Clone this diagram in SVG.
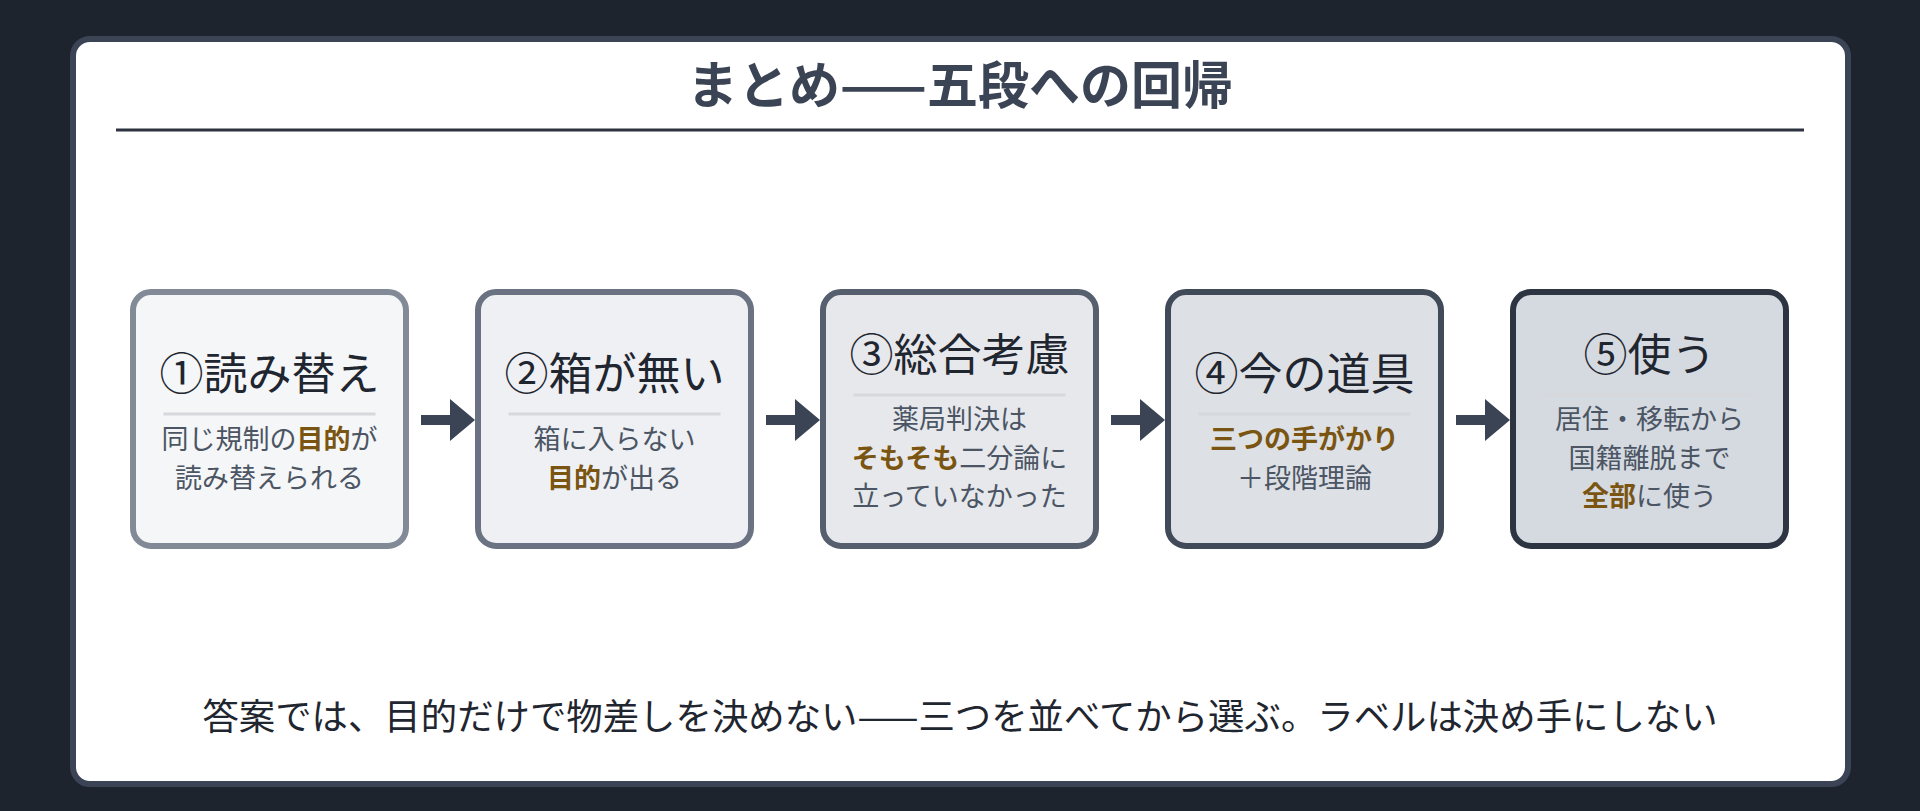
<svg xmlns="http://www.w3.org/2000/svg" width="1920" height="811" viewBox="0 0 1920 811">
<style>
  text { font-family: "Noto Sans CJK JP", "Noto Sans", sans-serif; }
  .node rect { stroke-width: 6; }
  .ttl { font-size: 44px; fill: #1f2630; text-anchor: middle; }
  .body { font-size: 27px; fill: #4b5563; text-anchor: middle; }
  .hl { font-weight: 700; fill: #7a5511; }
  .sep { stroke: #d6d8dc; stroke-width: 3; }
  .arrow { fill: #3b4454; }
</style>
<rect x="0" y="0" width="1920" height="811" fill="#1e242e"/>
<rect x="73" y="39" width="1775" height="745" rx="17" fill="#ffffff" stroke="#3b4454" stroke-width="6"/>
<text x="960" y="104" font-size="51" font-weight="700" fill="#3b4454" text-anchor="middle">まとめ——五段への回帰</text>
<line x1="116" y1="130" x2="1804" y2="130" stroke="#2d3440" stroke-width="3"/>

<g id="connectors">
  <rect class="arrow" x="421" y="415" width="31" height="10"/>
  <polygon class="arrow" points="450,399 475,420 450,441"/>
  <rect class="arrow" x="766" y="415" width="31" height="10"/>
  <polygon class="arrow" points="795,399 820,420 795,441"/>
  <rect class="arrow" x="1111" y="415" width="31" height="10"/>
  <polygon class="arrow" points="1140,399 1165,420 1140,441"/>
  <rect class="arrow" x="1456" y="415" width="31" height="10"/>
  <polygon class="arrow" points="1485,399 1510,420 1485,441"/>
</g>

<g id="node1" class="node">
  <rect x="133" y="292" width="273" height="254" rx="18" fill="#f5f6f8" stroke="#828a97"/>
  <text class="ttl" x="269.5" y="390">①読み替え</text>
  <line class="sep" x1="163.5" y1="414" x2="375.5" y2="414"/>
  <text class="body" x="269.5" y="449">同じ規制の<tspan class="hl">目的</tspan>が</text>
  <text class="body" x="269.5" y="488">読み替えられる</text>
</g>

<g id="node2" class="node">
  <rect x="478" y="292" width="273" height="254" rx="18" fill="#eef0f3" stroke="#6b7383"/>
  <text class="ttl" x="614.5" y="390">②箱が無い</text>
  <line class="sep" x1="508.5" y1="414" x2="720.5" y2="414"/>
  <text class="body" x="614.5" y="449">箱に入らない</text>
  <text class="body" x="614.5" y="488"><tspan class="hl">目的</tspan>が出る</text>
</g>

<g id="node3" class="node">
  <rect x="823" y="292" width="273" height="254" rx="18" fill="#e6e8ec" stroke="#565f6e"/>
  <text class="ttl" x="959.5" y="371">③総合考慮</text>
  <line class="sep" x1="853.5" y1="395" x2="1065.5" y2="395"/>
  <text class="body" x="959.5" y="429">薬局判決は</text>
  <text class="body" x="959.5" y="467.5"><tspan class="hl">そもそも</tspan>二分論に</text>
  <text class="body" x="959.5" y="506">立っていなかった</text>
</g>

<g id="node4" class="node">
  <rect x="1168" y="292" width="273" height="254" rx="18" fill="#dde0e5" stroke="#414a59"/>
  <text class="ttl" x="1304.5" y="390">④今の道具</text>
  <line class="sep" x1="1198.5" y1="414" x2="1410.5" y2="414"/>
  <text class="body" x="1304.5" y="449"><tspan class="hl">三つの手がかり</tspan></text>
  <text class="body" x="1304.5" y="488">＋段階理論</text>
</g>

<g id="node5" class="node">
  <rect x="1513" y="292" width="273" height="254" rx="18" fill="#d5dae1" stroke="#2d3542"/>
  <text class="ttl" x="1649.5" y="371">⑤使う</text>
  <line class="sep" x1="1543.5" y1="395" x2="1755.5" y2="395"/>
  <text class="body" x="1649.5" y="429">居住・移転から</text>
  <text class="body" x="1649.5" y="467.5">国籍離脱まで</text>
  <text class="body" x="1649.5" y="506"><tspan class="hl">全部</tspan>に使う</text>
</g>

<text x="960" y="730" font-size="36.4" fill="#1f2630" text-anchor="middle">答案では、目的だけで物差しを決めない——三つを並べてから選ぶ。ラベルは決め手にしない</text>
</svg>
